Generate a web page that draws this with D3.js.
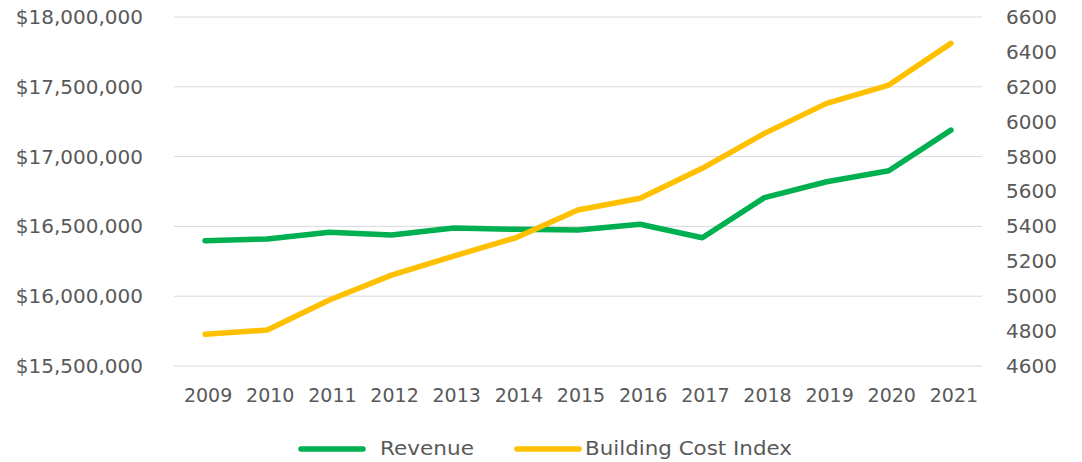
<!DOCTYPE html>
<html>
<head>
<meta charset="utf-8">
<script src="https://cdn.jsdelivr.net/npm/d3@7"></script>
<style>
  body { margin: 0; background: #fff; }
  svg { display: block; font-family: "DejaVu Sans", sans-serif; }
  .axis text { fill: #595959; font-size: 20px; }
  .x-axis text { font-size: 19px; }
  .legend text { fill: #595959; font-size: 19px; }
</style>
</head>
<body>
<svg id="chart" width="1082" height="462"></svg>
<script>
const years = ['2009', '2010', '2011', '2012', '2013', '2014', '2015',
               '2016', '2017', '2018', '2019', '2020', '2021'];

const revenue = [16398000, 16410000, 16458000, 16438000, 16489000, 16479000, 16474000,
                 16515000, 16419000, 16706000, 16820000, 16899000, 17190000];

const costIndex = [4782, 4806, 4978, 5121, 5230, 5335, 5494,
                   5561, 5733, 5933, 6105, 6210, 6449];

const leftTicks = [15500000, 16000000, 16500000, 17000000, 17500000, 18000000];
const rightTicks = [4600, 4800, 5000, 5200, 5400, 5600, 5800, 6000, 6200, 6400, 6600];

const seriesNames = ['Revenue', 'Building Cost Index'];
const seriesColors = ['#00b050', '#ffc000'];

const plot = { left: 174, right: 982, top: 17, bottom: 366 };

const svg = d3.select('#chart');

const x = d3.scaleBand(years, [plot.left, plot.right]);
const yLeft = d3.scaleLinear([15500000, 18000000], [plot.bottom, plot.top]);
const yRight = d3.scaleLinear([4600, 6600], [plot.bottom, plot.top]);

// Gridlines
svg.append('g')
   .selectAll('line')
   .data(leftTicks)
   .join('line')
   .attr('x1', plot.left)
   .attr('x2', plot.right)
   .attr('y1', d => yLeft(d))
   .attr('y2', d => yLeft(d))
   .attr('stroke', '#d9d9d9')
   .attr('stroke-width', 1);

// Axes (labels only, no domain or ticks)
const leftAxis = d3.axisLeft(yLeft)
                   .tickValues(leftTicks)
                   .tickFormat(d => '$' + d3.format(',')(d))
                   .tickSize(0)
                   .tickPadding(31);
svg.append('g')
   .attr('class', 'axis')
   .attr('transform', `translate(${plot.left},0)`)
   .call(leftAxis)
   .call(g => g.select('.domain').remove());

const rightAxis = d3.axisRight(yRight)
                    .tickValues(rightTicks)
                    .tickFormat(d3.format('d'))
                    .tickSize(0)
                    .tickPadding(24);
svg.append('g')
   .attr('class', 'axis')
   .attr('transform', `translate(${plot.right},0)`)
   .call(rightAxis)
   .call(g => g.select('.domain').remove());

const bottomAxis = d3.axisBottom(x)
                     .tickSize(0)
                     .tickPadding(23);
svg.append('g')
   .attr('class', 'axis x-axis')
   .attr('transform', `translate(3,${plot.bottom})`)
   .call(bottomAxis)
   .call(g => g.select('.domain').remove());

svg.selectAll('.axis text').attr('font-family', '"DejaVu Sans", sans-serif');

// Lines
const cx = d => x(d) + x.bandwidth() / 2;

const revLine = d3.line()
                  .x((d, i) => cx(years[i]))
                  .y(d => yLeft(d));
const bciLine = d3.line()
                  .x((d, i) => cx(years[i]))
                  .y(d => yRight(d));

svg.append('path')
   .datum(revenue)
   .attr('d', revLine)
   .attr('fill', 'none')
   .attr('stroke', seriesColors[0])
   .attr('stroke-width', 5.5)
   .attr('stroke-linecap', 'round')
   .attr('stroke-linejoin', 'round');

svg.append('path')
   .datum(costIndex)
   .attr('d', bciLine)
   .attr('fill', 'none')
   .attr('stroke', seriesColors[1])
   .attr('stroke-width', 5.5)
   .attr('stroke-linecap', 'round')
   .attr('stroke-linejoin', 'round');

// Legend
const legendItems = [
  { x: 301, textX: 380, width: 94 },
  { x: 517, textX: 585, width: 207 }
];

const legend = svg.append('g')
                  .attr('class', 'legend');

legend.selectAll('line')
      .data(seriesNames)
      .join('line')
      .attr('x1', (d, i) => legendItems[i].x)
      .attr('x2', (d, i) => legendItems[i].x + 62)
      .attr('y1', 449)
      .attr('y2', 449)
      .attr('stroke', (d, i) => seriesColors[i])
      .attr('stroke-width', 5.5)
      .attr('stroke-linecap', 'round');

legend.selectAll('text')
      .data(seriesNames)
      .join('text')
      .attr('x', (d, i) => legendItems[i].textX)
      .attr('y', 455)
      .attr('textLength', (d, i) => legendItems[i].width)
      .attr('lengthAdjust', 'spacingAndGlyphs')
      .text(d => d);
</script>
</body>
</html>
